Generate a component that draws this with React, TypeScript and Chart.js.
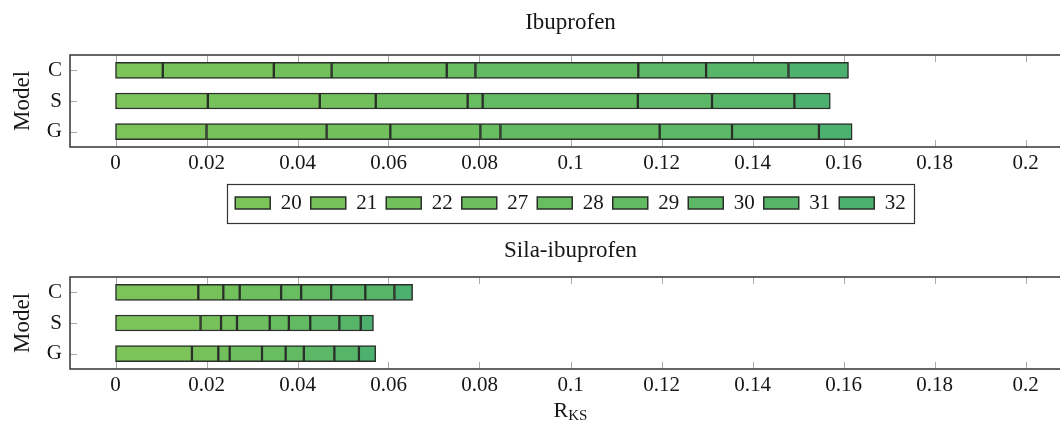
import React, { useEffect, useRef } from "react";
import { Chart, registerables } from "chart.js";

Chart.register(...registerables);

// ---------- data ----------
const models = ["C", "S", "G"];
const components = ["20", "21", "22", "27", "28", "29", "30", "31", "32"];
const componentColors = [
  "#7cc35a",
  "#77c15b",
  "#72c05c",
  "#6dbe5e",
  "#68bd60",
  "#62ba63",
  "#5cb866",
  "#56b569",
  "#4cb16f",
];

// Ibuprofen: contribution of each component (20..32) per model
const ibuprofenC = [0.0104, 0.0244, 0.0127, 0.0253, 0.0063, 0.0358, 0.0149, 0.0181, 0.0132];
const ibuprofenS = [0.0203, 0.0246, 0.0123, 0.0202, 0.0033, 0.0341, 0.0163, 0.0181, 0.0079];
const ibuprofenG = [0.02, 0.0264, 0.014, 0.0198, 0.0044, 0.035, 0.0159, 0.0191, 0.0073];

// Sila-ibuprofen
const silaC = [0.0182, 0.0055, 0.0036, 0.0091, 0.0044, 0.0066, 0.0075, 0.0064, 0.004];
const silaS = [0.0187, 0.0045, 0.0035, 0.0072, 0.0042, 0.0047, 0.0064, 0.0047, 0.0028];
const silaG = [0.0168, 0.0058, 0.0025, 0.0071, 0.0052, 0.004, 0.0067, 0.0054, 0.0037];

const xTickValues = [0, 0.02, 0.04, 0.06, 0.08, 0.1, 0.12, 0.14, 0.16, 0.18, 0.2];
const xTickLabels = ["0", "0.02", "0.04", "0.06", "0.08", "0.1", "0.12", "0.14", "0.16", "0.18", "0.2"];
const xMin = -0.01;
const xMax = 0.21;

const FONT = "'Liberation Serif', 'Times New Roman', serif";
const TEXT = "#161616";

// ---------- plugins ----------
const framePlugin = {
  id: "frameTicks",
  beforeDatasetsDraw(chart: any) {
    const { ctx, chartArea: a, scales } = chart;
    ctx.save();
    ctx.strokeStyle = "#a9a9a9";
    ctx.lineWidth = 1;
    ctx.beginPath();
    scales.x.ticks.forEach((t: any) => {
      const x = Math.round(scales.x.getPixelForValue(t.value)) + 0.5;
      ctx.moveTo(x, a.top);
      ctx.lineTo(x, a.top + 7);
      ctx.moveTo(x, a.bottom - 7);
      ctx.lineTo(x, a.bottom);
    });
    models.forEach((_m, i) => {
      const y = Math.round(scales.y.getPixelForValue(i)) + 0.5;
      ctx.moveTo(a.left, y);
      ctx.lineTo(a.left + 7, y);
    });
    ctx.stroke();
    ctx.restore();
  },
  afterDatasetsDraw(chart: any) {
    const { ctx, chartArea: a } = chart;
    ctx.save();
    ctx.strokeStyle = "#404040";
    ctx.lineWidth = 1.6;
    ctx.strokeRect(a.left, a.top, a.right - a.left, a.bottom - a.top);
    ctx.restore();
  },
};

const legendBorderPlugin = {
  id: "legendBorder",
  afterDraw(chart: any) {
    const lg = chart.legend;
    if (!lg || !lg.legendHitBoxes || !lg.legendHitBoxes.length) return;
    const hb = lg.legendHitBoxes;
    const left = hb[0].left - 8;
    const right = hb[hb.length - 1].left + hb[hb.length - 1].width + 8;
    const { ctx } = chart;
    ctx.save();
    ctx.strokeStyle = "#333";
    ctx.lineWidth = 1.2;
    ctx.strokeRect(Math.round(left) + 0.5, Math.round(lg.top) + 0.5, Math.round(right - left), Math.round(lg.bottom - lg.top) - 1);
    ctx.restore();
  },
};

const xTitlePlugin = {
  id: "xTitleSub",
  afterDraw(chart: any) {
    const { ctx, chartArea: a } = chart;
    const main = "R";
    const sub = "KS";
    ctx.save();
    ctx.fillStyle = TEXT;
    ctx.textBaseline = "alphabetic";
    ctx.font = `22px ${FONT}`;
    const wMain = ctx.measureText(main).width;
    ctx.font = `15px ${FONT}`;
    const wSub = ctx.measureText(sub).width;
    const cx = (a.left + a.right) / 2;
    const x0 = cx - (wMain + wSub) / 2;
    const baseY = chart.height - 10;
    ctx.font = `22px ${FONT}`;
    ctx.fillText(main, x0, baseY);
    ctx.font = `15px ${FONT}`;
    ctx.fillText(sub, x0 + wMain, baseY + 3);
    ctx.restore();
  },
};

// ---------- config ----------
function makeConfig(
  title: string,
  byModel: number[][],
  opts: { legend: boolean; xAxisHeight: number; titlePad: { top: number; bottom: number }; padBottom: number; extra: any[] }
) {
  const datasets = components.map((c, i) => ({
    label: c,
    data: byModel.map((arr) => arr[i]),
    backgroundColor: componentColors[i],
    borderColor: "#2a2f2a",
    borderWidth: 1.5,
    borderSkipped: false as const,
    barThickness: 16,
  }));
  return {
    type: "bar" as const,
    data: { labels: models, datasets },
    plugins: [framePlugin, ...opts.extra],
    options: {
      responsive: false,
      animation: false as const,
      indexAxis: "y" as const,
      layout: { padding: { left: 0, right: 9, top: 0, bottom: opts.padBottom } },
      scales: {
        x: {
          type: "linear" as const,
          stacked: true,
          min: xMin,
          max: xMax,
          afterBuildTicks: (s: any) => {
            s.ticks = xTickValues.map((v) => ({ value: v }));
          },
          afterFit: (s: any) => {
            s.height = opts.xAxisHeight;
          },
          grid: { display: false, drawTicks: false },
          border: { display: false },
          ticks: {
            autoSkip: false,
            maxRotation: 0,
            padding: 4,
            color: TEXT,
            font: { family: FONT, size: 21 },
            callback: (_v: any, i: number) => xTickLabels[i],
          },
        },
        y: {
          type: "category" as const,
          stacked: true,
          afterFit: (s: any) => {
            s.width = 70;
          },
          grid: { display: false, drawTicks: false },
          border: { display: false },
          ticks: { padding: 8, color: TEXT, font: { family: FONT, size: 21 } },
          title: {
            display: true,
            text: "Model",
            color: TEXT,
            font: { family: FONT, size: 23 },
            padding: { top: 9, bottom: 0 },
          },
        },
      },
      plugins: {
        title: {
          display: true,
          text: title,
          fullSize: false,
          color: TEXT,
          font: { family: FONT, size: 23, weight: "normal" as const },
          padding: opts.titlePad,
        },
        legend: {
          display: opts.legend,
          position: "bottom" as const,
          fullSize: false,
          labels: {
            color: TEXT,
            font: { family: FONT, size: 21 },
            boxWidth: 35,
            boxHeight: 12,
            padding: 9,
          },
        },
        tooltip: { enabled: false },
      },
    },
  };
}

function ChartCanvas(props: { config: any; width: number; height: number; top: number }) {
  const ref = useRef<HTMLCanvasElement | null>(null);
  useEffect(() => {
    if (!ref.current) return;
    const chart = new Chart(ref.current, props.config);
    return () => chart.destroy();
  }, []);
  return (
    <canvas
      ref={ref}
      width={props.width}
      height={props.height}
      style={{ position: "absolute", left: 0, top: props.top, width: props.width, height: props.height }}
    />
  );
}

export default function App() {
  const topConfig = makeConfig("Ibuprofen", [ibuprofenC, ibuprofenS, ibuprofenG], {
    legend: true,
    xAxisHeight: 36.5,
    titlePad: { top: 9, bottom: 18.4 },
    padBottom: 8.5,
    extra: [legendBorderPlugin],
  });
  const bottomConfig = makeConfig("Sila-ibuprofen", [silaC, silaS, silaG], {
    legend: false,
    xAxisHeight: 58,
    titlePad: { top: 5.5, bottom: 11.9 },
    padBottom: 0,
    extra: [xTitlePlugin],
  });
  return (
    <div
      style={{
        position: "absolute",
        left: 0,
        top: 0,
        width: 1060,
        height: 427,
        overflow: "hidden",
        background: "#ffffff",
      }}
    >
      <ChartCanvas config={topConfig} width={1080} height={232} top={0} />
      <ChartCanvas config={bottomConfig} width={1080} height={195} top={232} />
    </div>
  );
}
